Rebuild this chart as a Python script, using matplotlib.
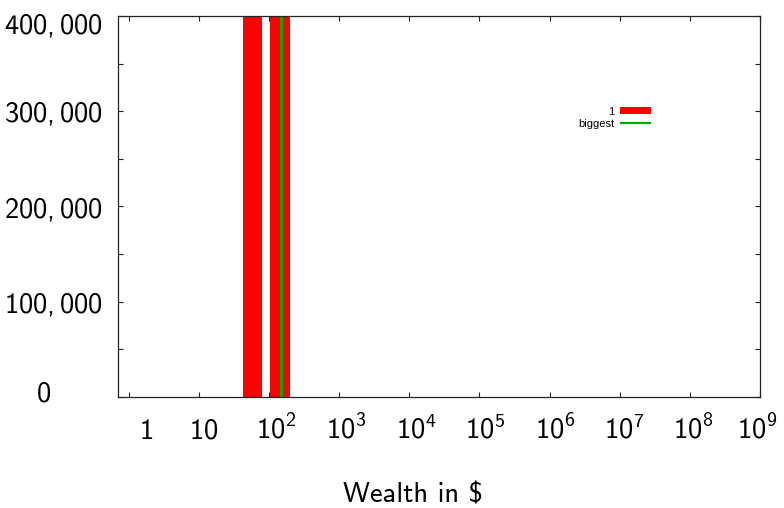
import matplotlib
matplotlib.use("Agg")
import matplotlib.pyplot as plt
import numpy as np
from matplotlib.ticker import FixedLocator, NullLocator, MultipleLocator, FuncFormatter
from matplotlib.transforms import ScaledTranslation

plt.rcParams['mathtext.fontset'] = 'custom'
for k in ('rm', 'it', 'bf', 'sf', 'cal', 'tt'):
    plt.rcParams['mathtext.' + k] = 'cmss10'
plt.rcParams['font.family'] = ['cmss10', 'DejaVu Sans']
plt.rcParams['axes.unicode_minus'] = False

# ---- data ----
bin_left = [42, 102]
bin_right = [79, 199]
bin_counts = [2.0e6, 1.5e6]          # both exceed the plotted range (clipped)
biggest_x = [148]
biggest_count = [2.5e6]
x_tick_values = [1, 10, 1e2, 1e3, 1e4, 1e5, 1e6, 1e7, 1e8, 1e9]
x_tick_labels = ['1', '10', '10^{2}', '10^{3}', '10^{4}', '10^{5}',
                 '10^{6}', '10^{7}', '10^{8}', '10^{9}']
y_tick_values = [0, 100000, 200000, 300000, 400000]
legend_labels = ['1', 'biggest']
x_label = 'Wealth in $'

# label placement nudges (pixels), mimicking the original layout
x_label_nudge = [17, 5, 7, 7, 7, 5.5, 5.5, 5, 4, -2.5]

FS = 20.5
fig = plt.figure(figsize=(7.84, 5.08), dpi=100)
ax = fig.add_axes([118 / 784, 111 / 508, 642 / 784, 381 / 508])

widths = np.subtract(bin_right, bin_left)
bars = ax.bar(bin_left, bin_counts, width=widths, align='edge',
              color='#ff0000', linewidth=0)
vl = ax.vlines(biggest_x, 0, biggest_count, colors='#00b000', linewidth=2.1)

ax.set_xscale('log')
ax.set_xlim(0.7, 1e9)
ax.set_ylim(0, 400000)

ax.xaxis.set_major_locator(FixedLocator(x_tick_values))
ax.xaxis.set_minor_locator(NullLocator())
ax.set_xticks(x_tick_values, [r'$%s$' % s for s in x_tick_labels])

ax.yaxis.set_major_locator(FixedLocator(y_tick_values))
ax.yaxis.set_minor_locator(MultipleLocator(50000))
ax.yaxis.set_major_formatter(FuncFormatter(lambda v, p: r'$%s$' % f'{v:,.0f}'))

for s in ax.spines.values():
    s.set_linewidth(0.9)
    s.set_color('#222222')

ax.tick_params(which='both', direction='in', top=True, right=True,
               length=3.8, width=0.8, color='#222222', labelsize=FS)
ax.tick_params(axis='x', pad=30.0)
ax.tick_params(axis='y', pad=10.8)

for i, lab in enumerate(ax.get_xticklabels()):
    lab.set_va('baseline')
    dx = x_label_nudge[i]
    lab.set_transform(lab.get_transform() + ScaledTranslation(dx / 100, 0, fig.dpi_scale_trans))

fig.canvas.draw()
ylabs = ax.get_yticklabels()
ylabs[0].set_transform(ylabs[0].get_transform() + ScaledTranslation(-52 / 100, 6 / 100, fig.dpi_scale_trans))
ylabs[-1].set_transform(ylabs[-1].get_transform() + ScaledTranslation(0, -7 / 100, fig.dpi_scale_trans))

ax.set_xlabel(x_label, fontsize=FS, va='center')
ax.xaxis.set_label_coords((413 - 118) / 642, (397 - 495) / 381)

# legend: two single-entry legends, text right-aligned against samples
common = dict(loc='center right', markerfirst=False, frameon=False,
              prop={'family': 'Liberation Sans', 'size': 8},
              handlelength=2.8, handletextpad=0.5, borderpad=0,
              borderaxespad=0)
leg1 = ax.legend([bars], [legend_labels[0]], bbox_to_anchor=((651 - 118) / 642, (397 - 111.7) / 381),
                 handleheight=0.6, **common)
ax.add_artist(leg1)
leg2 = ax.legend([vl], [legend_labels[1]], bbox_to_anchor=((651 - 118) / 642, (397 - 124) / 381),
                 **common)
for l in leg2.get_lines():
    l.set_linewidth(1.6)

fig.savefig('out.png', dpi=100)
